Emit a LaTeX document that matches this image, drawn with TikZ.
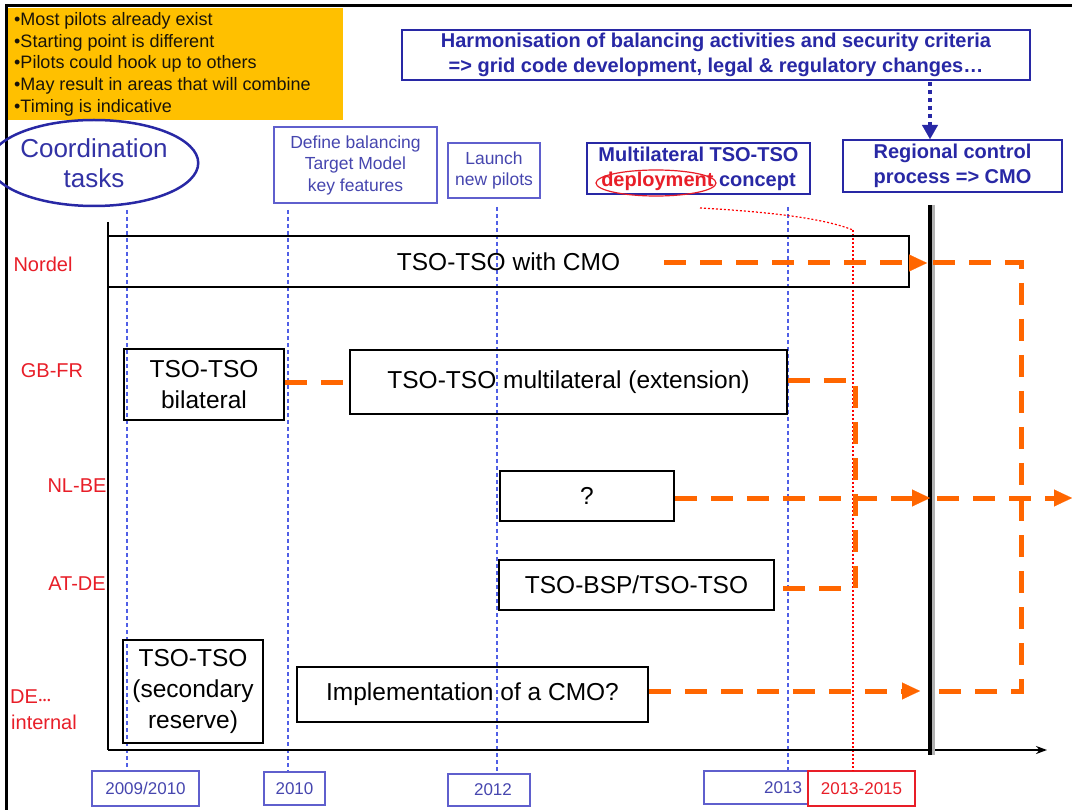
\documentclass[tikz,border=0pt]{standalone}
\usepackage{fontspec}
\setmainfont{Liberation Sans}
\usetikzlibrary{arrows.meta,shapes.geometric}
\definecolor{gold}{RGB}{255,192,0}
\definecolor{orng}{RGB}{255,102,0}
\definecolor{db}{RGB}{40,40,165}
\definecolor{tb}{RGB}{95,95,205}
\definecolor{tbt}{RGB}{70,70,175}
\definecolor{yb}{RGB}{80,95,230}
\definecolor{lred}{RGB}{232,30,40}
\begin{document}
\begin{tikzpicture}[x=1pt,y=-1pt,
  blk/.style={draw=black, line width=1.6pt, inner sep=0pt, align=center, font=\fontsize{24.5}{31}\selectfont},
  thinblue/.style={draw=tb, line width=1.1pt, inner sep=0pt, align=center, text=tbt, font=\fontsize{17.5}{21.5}\selectfont},
  boldblue/.style={draw=db, line width=2pt, inner sep=0pt, align=center, text=db, font=\bfseries\fontsize{20}{25}\selectfont},
  yearbox/.style={draw=tb, line width=1.1pt, inner sep=0pt, text=tbt, font=\fontsize{17}{20}\selectfont},
  region/.style={text=lred, inner sep=0pt, font=\fontsize{20}{24}\selectfont},
  flow/.style={draw=orng, line width=5pt, dash pattern=on 22pt off 14pt},
  flowarrow/.style={flow, -{Triangle[length=18pt,width=17pt,line width=0.1pt]}},
  yearline/.style={draw=yb, line width=1.1pt, dash pattern=on 4pt off 3pt},
  redline/.style={draw=red, line width=1.2pt, dash pattern=on 2pt off 2pt}
]
\useasboundingbox (0,0) rectangle (1072,810);
\fill[white] (0,0) rectangle (1072,810);

% frame
\draw[line width=3pt] (6,810) -- (6,6) -- (1072,6);

% notes box
\node[fill=gold, minimum width=335, minimum height=112, inner sep=0pt, anchor=north west] (notes) at (8,8) {};
\node[anchor=north west, inner sep=0pt, align=left, text={rgb,255:red,25;green,20;blue,10}, font=\fontsize{18}{21.8}\selectfont] (notestext) at (14,12)
 {•Most pilots already exist\\•Starting point is different\\•Pilots could hook up to others\\•May result in areas that will combine\\•Timing is indicative};

% top header boxes
\node[boldblue, minimum width=628, minimum height=50] (harm) at (716,55)
 {Harmonisation of balancing activities and security criteria\\=> grid code development, legal \& regulatory changes…};
\node[boldblue, minimum width=219, minimum height=52] (regional) at (952.5,166)
 {Regional control\\process => CMO};
\coordinate (h1) at (930,82);
\draw[draw=db, line width=4pt, dash pattern=on 4pt off 4pt, -{Triangle[length=14pt,width=16pt,line width=0.1pt]}] (h1) -- (h1 |- regional.north);

\node[ellipse, draw=db, line width=2.5pt, minimum width=178, minimum height=86, inner sep=0pt, align=center,
  text={rgb,255:red,50;green,50;blue,165}, font=\fontsize{26}{30}\selectfont] (coord) at (94,163) {Coordination\\tasks};
\node[thinblue, minimum width=163, minimum height=76] (define) at (355.5,165) {Define balancing\\Target Model\\key features};
\node[thinblue, minimum width=92, minimum height=55] (launch) at (494,170.5) {Launch\\new pilots};
\node[boldblue, minimum width=223, minimum height=51] (mtop) at (698.5,168.5)
 {Multilateral TSO-TSO\\\textcolor{lred}{deployment} concept};
\draw[lred, line width=1.2pt] (656,183) ellipse [x radius=60, y radius=13];

% year boxes
\node[yearbox, minimum width=107, minimum height=35] (y2009) at (145.5,788.5) {2009/2010};
\node[yearbox, minimum width=61, minimum height=33] (y2010) at (294.5,788.5) {2010};
\node[yearbox, minimum width=82, minimum height=32] (y2012) at (489,790) {\hspace{8pt}2012};
\node[yearbox, minimum height=33, inner xsep=6pt, text width=92, align=right] (y2013) at (756,787.5) {2013};
\node[yearbox, draw=lred, text=lred, minimum width=107, minimum height=35] (y2015) at (861.5,788.5) {2013-2015};

% year guide lines
\coordinate (t1) at (127,210);
\coordinate (t2) at (288,210);
\coordinate (t3) at (497,207);
\coordinate (t4) at (788,207);
\coordinate (t5) at (853,230);
\draw[yearline] (t1) -- (t1 |- y2009.north);
\draw[yearline] (t2) -- (t2 |- y2010.north);
\draw[yearline] (t3) -- (t3 |- y2012.north);
\draw[yearline] (t4) -- (t4 |- y2013.north);
\draw[redline] (t5) -- (t5 |- y2015.north);
\coordinate (rc) at (700,208);
\draw[redline] (rc) .. controls (790,213) and (830,221) .. (t5);

% axes
\coordinate (origin) at (108,750);
\coordinate (ytop) at (108,222);
\coordinate (xend) at (1047,750);
\draw[line width=2.5pt] (ytop) -- (origin);
\draw[line width=2.2pt, -{Stealth[length=11pt,width=8pt]}] (origin) -- (xend);
\coordinate (bt) at (930,205);
\coordinate (bb) at (930,755);
\draw[line width=6pt, gray!60] ([xshift=1.5pt]bt) -- ([xshift=1.5pt]bb);
\draw[line width=3.5pt, black] (bt) -- (bb);

% region labels
\node[region] (lnordel) at (43,264) {Nordel};
\node[region] (lgbfr) at (52,371) {GB-FR};
\node[region] (lnlbe) at (77,486) {NL-BE};
\node[region] (latde) at (77,584) {AT-DE};
\node[region, anchor=west] (lde) at (10,697) {DE{\fontsize{9}{9}\selectfont\hspace{1pt}•\hspace{1pt}•\hspace{1pt}•}};
\node[region, anchor=west] (lint) at (11,722) {internal};

% task boxes
\node[blk, minimum width=801, minimum height=51] (nordel) at (508.5,261.5) {TSO-TSO with CMO};
\node[blk, minimum width=160, minimum height=71] (bilat) at (204,384.5) {TSO-TSO\\bilateral};
\node[blk, minimum width=437, minimum height=64] (multi) at (568.5,382) {TSO-TSO multilateral (extension)};
\node[blk, minimum width=174, minimum height=50] (nlbe) at (587,496) {?};
\node[blk, minimum width=275, minimum height=50] (atde) at (636.5,585) {TSO-BSP/TSO-TSO};
\node[blk, minimum width=140, minimum height=103] (second) at (193,691.5) {TSO-TSO\\(secondary\\reserve)};
\node[blk, minimum width=351, minimum height=55] (impl) at (472.5,694.5) {Implementation of a CMO?};

% orange flows
\coordinate (n0) at (664,263);
\coordinate (n1) at (927,263);
\coordinate (n2) at (933,263);
\coordinate (rv) at (1021,263);
\coordinate (d1) at (933,691);
\draw[flowarrow] (n0) -- (n1);
\draw[flow] (n2) -- (rv) -- (rv |- d1) -- (d1);

\coordinate (g1) at (bilat.east |- 0,383);
\draw[flow] (g1) -- (g1 -| multi.west);
\coordinate (g2) at (multi.east |- 0,381);
\coordinate (gv) at (855,381);
\coordinate (ad) at (atde.east |- 0,588);
\draw[flow] (g2) -- (gv) -- (gv |- ad) -- (ad);

\coordinate (b0) at (nlbe.east |- 0,498);
\coordinate (b1) at (930,498);
\coordinate (b2) at (937,498);
\coordinate (b3) at (1072,498);
\draw[flowarrow] (b0) -- (b1);
\draw[flowarrow] (b2) -- (b3);

\coordinate (i0) at (impl.east |- 0,691);
\coordinate (i1) at (920,691);
\draw[flowarrow] (i0) -- (i1);
\end{tikzpicture}
\end{document}
